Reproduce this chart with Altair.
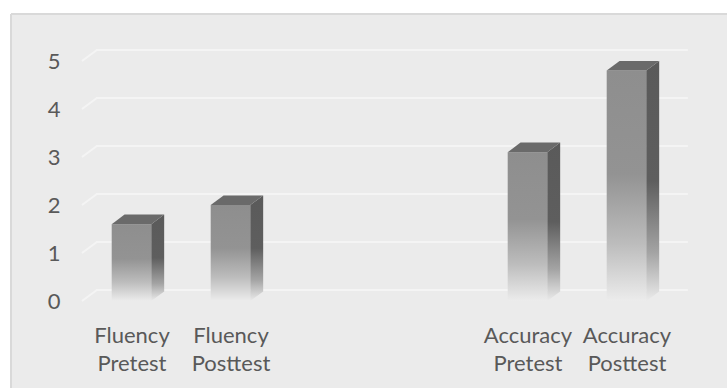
import json

import altair as alt
import pandas as pd

# Spreadsheet rows: two blank rows separate the fluency and accuracy pairs
categories = ["Fluency Pretest", "Fluency Posttest", "", "", "Accuracy Pretest", "Accuracy Posttest"]
scores = [1.6, 2.0, None, None, 3.1, 4.8]
y_ticks = [0, 1, 2, 3, 4, 5]

FONT = "Lato"
TEXT = "#595959"
FONT_SIZE = 22

# Plot-area size and placement of the origin (pixels)
W, H = 716, 374
PX_PER_SLOT, PX_PER_UNIT = 99, 48
ORIGIN_X, ORIGIN_Y = 71, 287   # slot -0.5 / score 0

# 3-D extrusion, in data units
HALF = 0.2                   # half width of a bar's front face
BAR_DX, BAR_DY = 0.13, 0.2   # bar depth
FLOOR_DX, FLOOR_DY = 0.15, 0.23
X_LO, X_HI = -0.5, 5.47

x_scale = alt.Scale(
    domain=[-0.5 - ORIGIN_X / PX_PER_SLOT, -0.5 + (W - ORIGIN_X) / PX_PER_SLOT],
    nice=False, zero=False,
)
y_scale = alt.Scale(
    domain=[-(H - ORIGIN_Y) / PX_PER_UNIT, ORIGIN_Y / PX_PER_UNIT],
    nice=False, zero=False,
)

bars = [
    {"slot": i, "name": c, "score": s}
    for i, (c, s) in enumerate(zip(categories, scores))
    if s is not None
]

front = pd.DataFrame([
    {"name": b["name"], "x0": b["slot"] - HALF, "x1": b["slot"] + HALF, "y0": 0.0, "y1": b["score"]}
    for b in bars
])

side = pd.DataFrame([
    row
    for b in bars
    for row in (
        {"name": b["name"], "x": b["slot"] + HALF, "lo": 0.0, "hi": b["score"]},
        {"name": b["name"], "x": b["slot"] + HALF + BAR_DX, "lo": BAR_DY, "hi": b["score"] + BAR_DY},
    )
])

top = pd.DataFrame([
    row
    for b in bars
    for row in (
        {"name": b["name"], "y": b["score"], "l": b["slot"] - HALF, "r": b["slot"] + HALF},
        {"name": b["name"], "y": b["score"] + BAR_DY,
         "l": b["slot"] - HALF + BAR_DX, "r": b["slot"] + HALF + BAR_DX},
    )
])

grid = pd.DataFrame([
    row
    for k in y_ticks
    for row in (
        {"k": k, "o": 0, "x": X_LO, "y": k},
        {"k": k, "o": 1, "x": X_LO + FLOOR_DX, "y": k + FLOOR_DY},
        {"k": k, "o": 2, "x": X_HI + FLOOR_DX, "y": k + FLOOR_DY},
    )
])


def vgrad(stops):
    return alt.LinearGradient(
        gradient="linear", x1=0, x2=0, y1=0, y2=1,
        stops=[alt.GradientStop(offset=o, color=c) for o, c in stops],
    )


front_fill = vgrad([(0, "#8e8e8e"), (0.45, "#939393"), (0.75, "#bcbcbc"), (1, "#ececec")])
side_fill = vgrad([(0, "#5a5a5a"), (0.5, "#5e5e5e"), (0.8, "#a4a4a4"), (1, "#ebebeb")])

label_lines = json.dumps([c.split(" ") for c in categories])
x_axis = alt.Axis(
    values=[i for i, c in enumerate(categories) if c],
    labelExpr=f"{label_lines}[datum.value]",
    title=None, grid=False, domain=False, ticks=False, tickSize=0,
    labelPadding=0, offset=-46, labelBaseline="alphabetic", labelLineHeight=28,
    labelFont=FONT, labelFontSize=FONT_SIZE, labelColor=TEXT, labelAngle=0,
    labelFlush=False, labelOverlap=False,
)
y_axis = alt.Axis(
    values=y_ticks, format="d",
    title=None, grid=False, domain=False, ticks=False, tickSize=0,
    labelPadding=0, offset=-49,
    labelFont=FONT, labelFontSize=FONT_SIZE, labelColor=TEXT,
    labelFlush=False, labelOverlap=False,
)

gridlines = alt.Chart(grid).mark_line(color="#f4f4f4", strokeWidth=2).encode(
    x=alt.X("x:Q", scale=x_scale, axis=x_axis),
    y=alt.Y("y:Q", scale=y_scale, axis=y_axis),
    detail="k:N",
    order="o:Q",
)

front_faces = alt.Chart(front).mark_rect(fill=front_fill).encode(
    x=alt.X("x0:Q", scale=x_scale, axis=x_axis),
    x2="x1:Q",
    y=alt.Y("y0:Q", scale=y_scale, axis=y_axis),
    y2="y1:Q",
)

side_faces = alt.Chart(side).mark_area(fill=side_fill).encode(
    x=alt.X("x:Q", scale=x_scale, axis=x_axis),
    y=alt.Y("lo:Q", scale=y_scale, axis=y_axis, stack=False),
    y2="hi:Q",
    detail="name:N",
)

top_faces = alt.Chart(top).mark_area(orient="horizontal", fill="#6a6a6a").encode(
    y=alt.Y("y:Q", scale=y_scale, axis=y_axis),
    x=alt.X("l:Q", scale=x_scale, axis=x_axis, stack=False),
    x2="r:Q",
    detail="name:N",
)

frame_left = alt.Chart(front).mark_rule(color="#d9d9d9", strokeWidth=2).encode(
    x=alt.value(0), y=alt.value(0), y2=alt.value(H)
)
frame_top = alt.Chart(front).mark_rule(color="#d9d9d9", strokeWidth=2).encode(
    x=alt.value(0), x2=alt.value(W), y=alt.value(0)
)

chart = (
    alt.layer(gridlines, front_faces, side_faces, top_faces, frame_left, frame_top)
    .properties(
        width=W, height=H,
        autosize=alt.AutoSizeParams(type="none"),
        padding={"left": 11, "top": 14, "right": 0, "bottom": 0},
        background="white",
    )
    .configure_view(fill="#ebebeb", stroke="transparent")
)

chart.save("out.html", embed_options={"renderer": "svg", "actions": False})
